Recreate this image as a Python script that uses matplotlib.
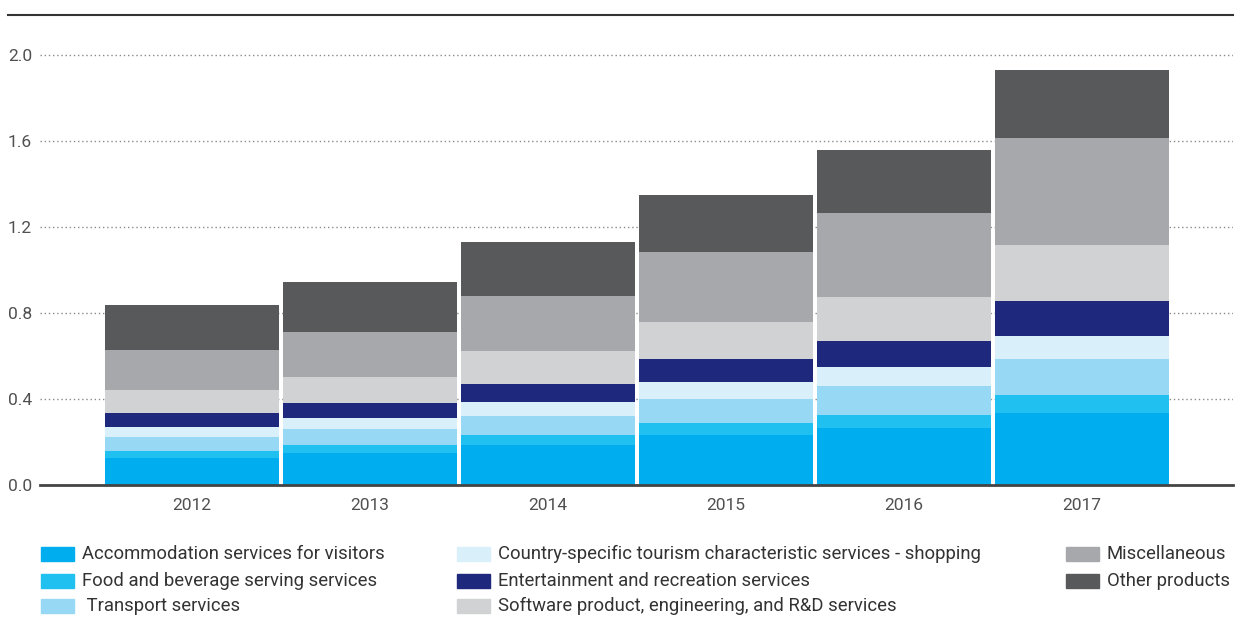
import matplotlib.pyplot as plt
from matplotlib.lines import Line2D
from matplotlib.patches import Rectangle
import numpy as np

plt.rcParams['font.family'] = ['Roboto', 'DejaVu Sans']

years = ["2012", "2013", "2014", "2015", "2016", "2017"]

accommodation = [0.126, 0.149, 0.186, 0.233, 0.265, 0.335]
food = [0.032, 0.037, 0.047, 0.055, 0.061, 0.084]
transport = [0.065, 0.074, 0.088, 0.112, 0.134, 0.167]
shopping = [0.047, 0.052, 0.065, 0.079, 0.089, 0.107]
entertainment = [0.065, 0.069, 0.084, 0.107, 0.121, 0.163]
software = [0.107, 0.121, 0.153, 0.172, 0.204, 0.260]
misc = [0.186, 0.210, 0.256, 0.326, 0.391, 0.498]
other = [0.209, 0.232, 0.251, 0.265, 0.293, 0.316]

series = [
    ("Accommodation services for visitors", accommodation, "#00aeef"),
    ("Food and beverage serving services", food, "#20c0f0"),
    (" Transport services", transport, "#97d9f5"),
    ("Country-specific tourism characteristic services - shopping", shopping, "#d9f0fa"),
    ("Entertainment and recreation services", entertainment, "#1e287c"),
    ("Software product, engineering, and R&D services", software, "#d1d2d4"),
    ("Miscellaneous", misc, "#a7a8ac"),
    ("Other products", other, "#58595b"),
]

W, H = 1243, 617
fig = plt.figure(figsize=(W / 100, H / 100), dpi=100)
ax = fig.add_axes([40 / W, 132 / H, 1193 / W, 470 / H])

x = np.arange(len(years))
bottom = np.zeros(len(years))
for label, vals, color in series:
    ax.bar(x, vals, width=0.975, bottom=bottom, color=color, label=label, zorder=3)
    bottom += np.array(vals)

ax.set_xlim(-0.855, 5.85)
ax.set_ylim(0, 2.186)
ax.set_yticks([0.0, 0.4, 0.8, 1.2, 1.6, 2.0])
ax.set_yticklabels(["0.0", "0.4", "0.8", "1.2", "1.6", "2.0"], ha="left")
ax.set_xticks(x)
ax.set_xticklabels(years)
ax.tick_params(axis="y", length=0, pad=23, labelsize=12.5, colors="#505050")
ax.tick_params(axis="x", length=0, pad=9, labelsize=12.5, colors="#505050")

ax.grid(axis="y", linestyle=(0, (1, 2)), color="#8a8a8a", linewidth=1.0, zorder=0)
for s in ["top", "right", "left"]:
    ax.spines[s].set_visible(False)
ax.spines["bottom"].set_color("#444444")
ax.spines["bottom"].set_linewidth(2)
ax.spines["bottom"].set_zorder(4)

# top rule
fig.add_artist(Line2D([8 / W, 1233 / W], [1 - 15 / H, 1 - 15 / H],
                      color="#333333", linewidth=1.5))

# legend, three columns placed by hand
col_x = [41, 457, 1066]
row_y = [554, 581, 606]
for i, (label, vals, color) in enumerate(series):
    cx = col_x[i // 3]
    cy = row_y[i % 3]
    fig.add_artist(Rectangle((cx / W, 1 - (cy + 7) / H), 33 / W, 14 / H,
                             transform=fig.transFigure, color=color))
    fig.text((cx + 41) / W, 1 - cy / H, label, fontsize=13.3, color="#333333",
             va="center", ha="left")

fig.savefig("out.png", dpi=100)
